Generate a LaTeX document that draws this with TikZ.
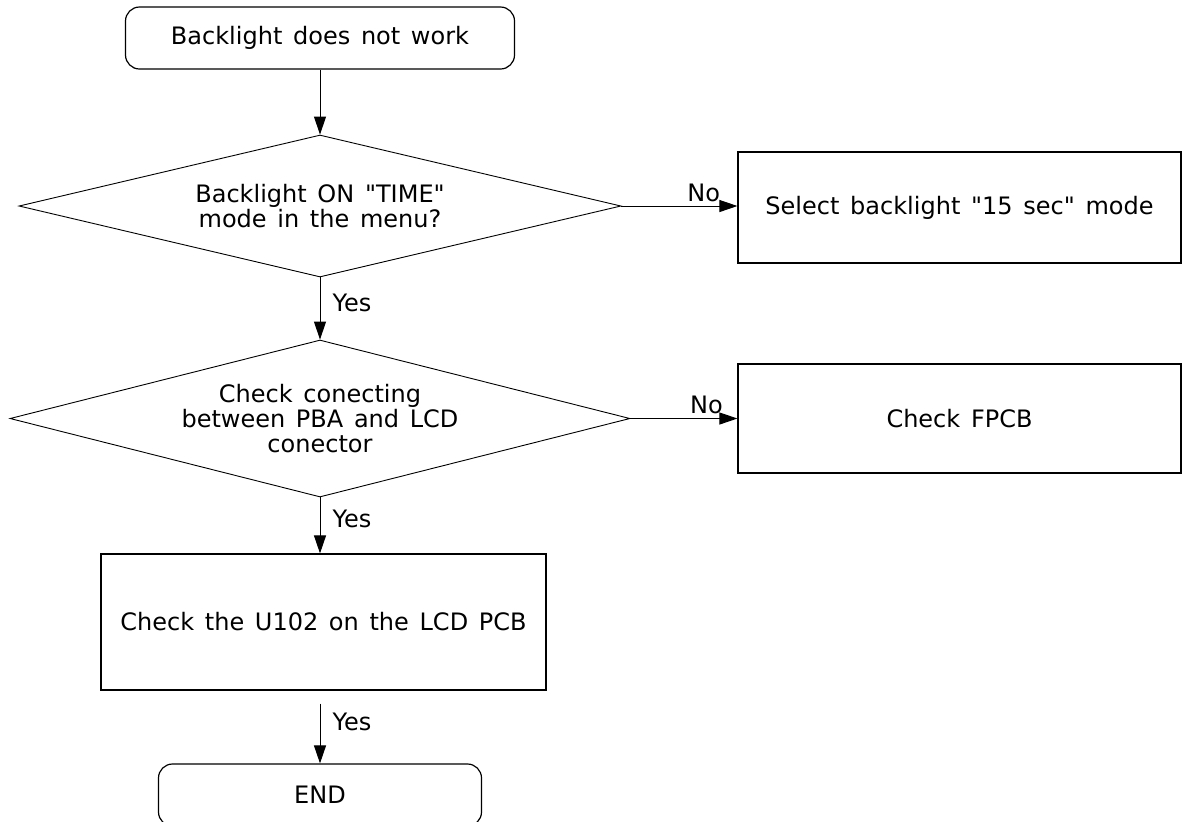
\documentclass[tikz,border=0pt]{standalone}
\usepackage{fontspec}
\setmainfont{DejaVu Sans}[Ligatures=TeXOff,WordSpace=1.4]
\usetikzlibrary{arrows.meta, positioning, shapes.geometric}

\begin{document}
\begin{tikzpicture}[x=0.5pt,y=-0.5pt,
    every node/.style={font=\fontsize{12}{12.5}\selectfont},
    terminal/.style={draw,rounded corners=7pt,line width=0.6pt,
      minimum width=194.5pt,minimum height=31pt,inner sep=0pt},
    decision/.style={draw,diamond,aspect=4,line width=0.45pt,
      inner sep=0pt,align=center},
    process/.style={draw,rectangle,line width=0.6pt,inner sep=0pt},
    flow/.style={-{Triangle[length=9pt,width=6pt]},line width=0.5pt},
    yes/.style={pos=0.38,anchor=west,inner sep=0pt,xshift=6pt},
    no/.style={pos=0.71,above,inner sep=2pt}]
  \useasboundingbox (0,0) rectangle (1182,821);

  \node[terminal] (start) at (320,38) {Backlight does not work};
  \node[decision,minimum width=301pt,minimum height=71pt] (dec1)
    at (320,206) {Backlight ON "TIME"\\mode in the menu?};
  \node[process,minimum width=221.5pt,minimum height=55.5pt] (select)
    at (959.5,207.5) {Select backlight "15 sec" mode};
  \node[decision,minimum width=310pt,minimum height=78.5pt] (dec2)
    at (320,418.5) {Check conecting\\between PBA and LCD\\conector};
  \node[process,minimum width=221.5pt,minimum height=54.5pt] (fpcb)
    at (959.5,418.5) {Check FPCB};
  \node[process,minimum width=222.5pt,minimum height=68pt] (u102)
    at (323.5,622) {Check the U102 on the LCD PCB};
  \node[terminal,minimum width=161.5pt] (end) at (320,795) {END};

  \draw[flow] (start) -- (dec1);
  \draw[flow] (dec1.east) -- (dec1.east -| select.west) node[no]{No};
  \draw[flow] (dec1) -- (dec2) node[yes,pos=0.41]{Yes};
  \draw[flow] (dec2.east) -- (dec2.east -| fpcb.west) node[no]{No};
  \draw[flow] (dec2.south) -- (dec2.south |- u102.north) node[yes]{Yes};
  \draw[flow] ([yshift=-6.5pt]end.north |- u102.south) -- (end.north)
    node[yes,pos=0.31]{Yes};
\end{tikzpicture}
\end{document}
